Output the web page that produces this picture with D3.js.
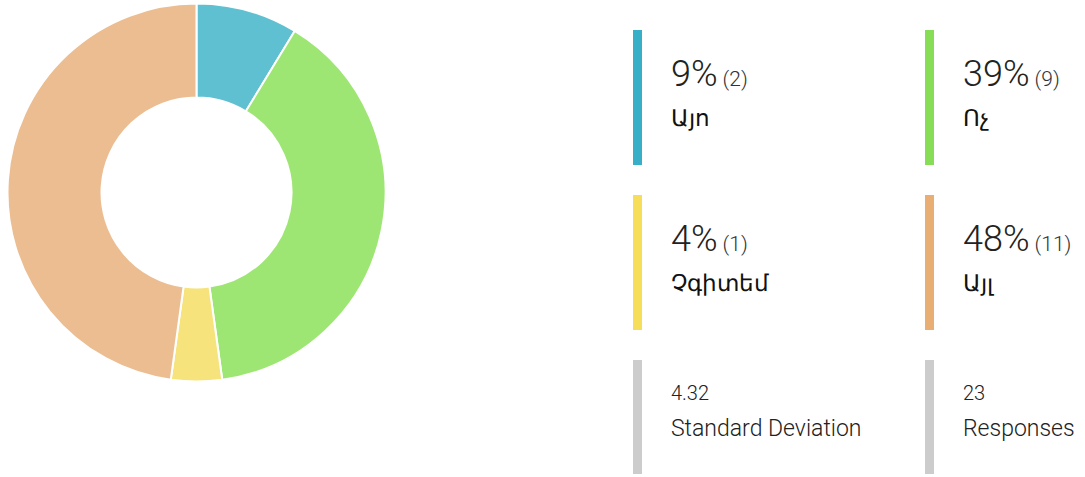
<!DOCTYPE html>
<html>
<head>
<meta charset="utf-8">
<script src="https://cdn.jsdelivr.net/npm/d3@7"></script>
<style>
  body { margin: 0; background: #fff; }
  svg { display: block; }
</style>
</head>
<body>
<svg id="chart"></svg>
<script>
var categories = ["Այո", "Ոչ", "Չգիտեմ", "Այլ"]
var counts = [2, 9, 1, 11]
var sliceColors = ["#5ec0d1", "#9ee674", "#f6e37b", "#ebbd91"]
var barColors = ["#37b0c7", "#87de56", "#f6de5b", "#e8ae73"]

var statValues = ["4.32", "23"]
var statLabels = ["Standard Deviation", "Responses"]

var width = 1085
var height = 477

var svg = d3.select("#chart")
    .attr("width", width)
    .attr("height", height)

var total = d3.sum(counts)

// donut
var pie = d3.pie().sort(null).value(d => d)
var arc = d3.arc().innerRadius(95).outerRadius(189)

var donut = svg.append("g")
    .attr("transform", "translate(196.5,192.5)")

donut.selectAll("path")
    .data(pie(counts))
    .join("path")
    .attr("d", arc)
    .attr("fill", (d, i) => sliceColors[i])
    .attr("stroke", "#fff")
    .attr("stroke-width", 2)

// legend cells
var colX = [633, 925]
var rowY = [30, 195, 360]
var lightFont = "'Roboto Light', Roboto, sans-serif"

var cells = svg.append("g")
    .selectAll("g")
    .data(categories)
    .join("g")
    .attr("transform", (d, i) => "translate(" + colX[i % 2] + "," + rowY[Math.floor(i / 2)] + ")")

cells.append("rect")
    .attr("width", 9)
    .attr("height", 135)
    .attr("fill", (d, i) => barColors[i])

var pct = cells.append("text")
    .attr("x", 38)
    .attr("y", 56)
    .attr("font-family", lightFont)
    .attr("font-weight", 300)
    .attr("fill", "#222")

pct.append("tspan")
    .attr("font-size", 36)
    .text((d, i) => Math.round(counts[i] / total * 100) + "%")

pct.append("tspan")
    .attr("dx", 5)
    .attr("font-size", 21)
    .attr("fill", "#333")
    .text((d, i) => "(" + counts[i] + ")")

cells.append("text")
    .attr("x", 38)
    .attr("y", 96)
    .attr("font-family", "'Noto Sans', Roboto, sans-serif")
    .attr("font-size", 23)
    .attr("fill", "#111")
    .text(d => d)

// stats row
var stats = svg.append("g")
    .selectAll("g")
    .data(statValues)
    .join("g")
    .attr("transform", (d, i) => "translate(" + colX[i] + "," + rowY[2] + ")")

stats.append("rect")
    .attr("width", 9)
    .attr("height", 114)
    .attr("fill", "#cccccc")

stats.append("text")
    .attr("x", 38)
    .attr("y", 40)
    .attr("font-family", lightFont)
    .attr("font-weight", 300)
    .attr("font-size", 20)
    .attr("fill", "#222")
    .text(d => d)

stats.append("text")
    .attr("x", 38)
    .attr("y", 76)
    .attr("font-family", lightFont)
    .attr("font-weight", 300)
    .attr("font-size", 23)
    .attr("fill", "#222")
    .text((d, i) => statLabels[i])
</script>
</body>
</html>
